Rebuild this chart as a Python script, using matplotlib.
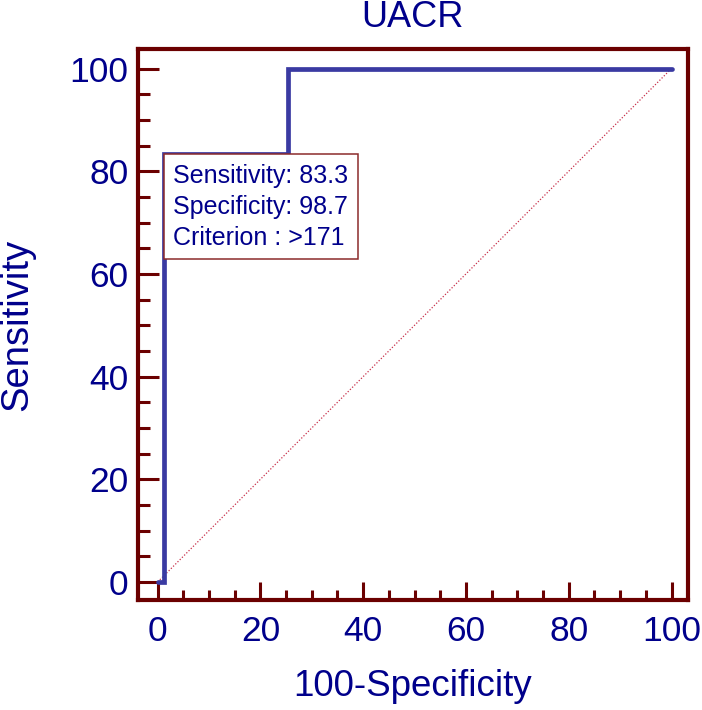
import matplotlib
matplotlib.use("Agg")
import matplotlib.pyplot as plt
from matplotlib.ticker import MultipleLocator

plt.rcParams['font.family'] = ['Liberation Sans', 'DejaVu Sans']

# ROC curve for UACR (100-Specificity vs Sensitivity)
fpr = [0, 1.3, 1.3, 25.3, 25.3, 100]
tpr = [0, 0, 83.3, 83.3, 100, 100]

cut_fpr = 1.3
cut_sens = 83.3
cut_spec = 98.7
criterion = ">171"

title = "UACR"
navy = "#00008b"
maroon = "#6b0000"

fig = plt.figure(figsize=(7.02, 7.10), dpi=100)
ax = fig.add_axes([0.196, 0.155, 0.784, 0.776])

# chance line
ax.plot([0, 100], [0, 100], color="#c8304a", lw=0.9, ls=(0, (1, 1.5)))
# ROC
ax.plot(fpr, tpr, color="#3a3aa2", lw=3.4, solid_joinstyle="miter", solid_capstyle="round")

label = (f"Sensitivity: {cut_sens}\n"
         f"Specificity: {cut_spec}\n"
         f"Criterion : {criterion}")
ax.annotate(label, xy=(cut_fpr, cut_sens), xytext=(6.5, -7),
            textcoords="offset points", ha="left", va="top",
            fontsize=18, color=navy, linespacing=1.36,
            bbox=dict(boxstyle="square,pad=0.38", fc="white", ec="#8b2b2b", lw=1.1))

ax.set_xlim(-3.9, 103.2)
ax.set_ylim(-3.5, 103.8)

ax.xaxis.set_major_locator(MultipleLocator(20))
ax.xaxis.set_minor_locator(MultipleLocator(5))
ax.yaxis.set_major_locator(MultipleLocator(20))
ax.yaxis.set_minor_locator(MultipleLocator(5))

for s in ax.spines.values():
    s.set_color(maroon)
    s.set_linewidth(3)

ax.tick_params(axis="x", which="major", direction="in", length=13, width=2.2,
               color=maroon, labelcolor=navy, labelsize=25.5, pad=11)
ax.tick_params(axis="x", which="minor", direction="in", length=7, width=2.2, color=maroon)
ax.tick_params(axis="y", which="major", direction="in", length=15, width=2.2,
               color=maroon, labelcolor=navy, labelsize=25.5, pad=6.5)
ax.tick_params(axis="y", which="minor", direction="in", length=8.6, width=2.2, color=maroon)

ax.set_title(title, fontsize=26, color=navy, pad=16)
ax.set_xlabel("100-Specificity", fontsize=26.5, color=navy)
ax.set_ylabel("Sensitivity", fontsize=27.5, color=navy)
ax.xaxis.set_label_coords(0.5, -0.125)
ax.yaxis.set_label_coords(-0.186, 0.5)

fig.savefig("out.png", dpi=100, facecolor="white")
